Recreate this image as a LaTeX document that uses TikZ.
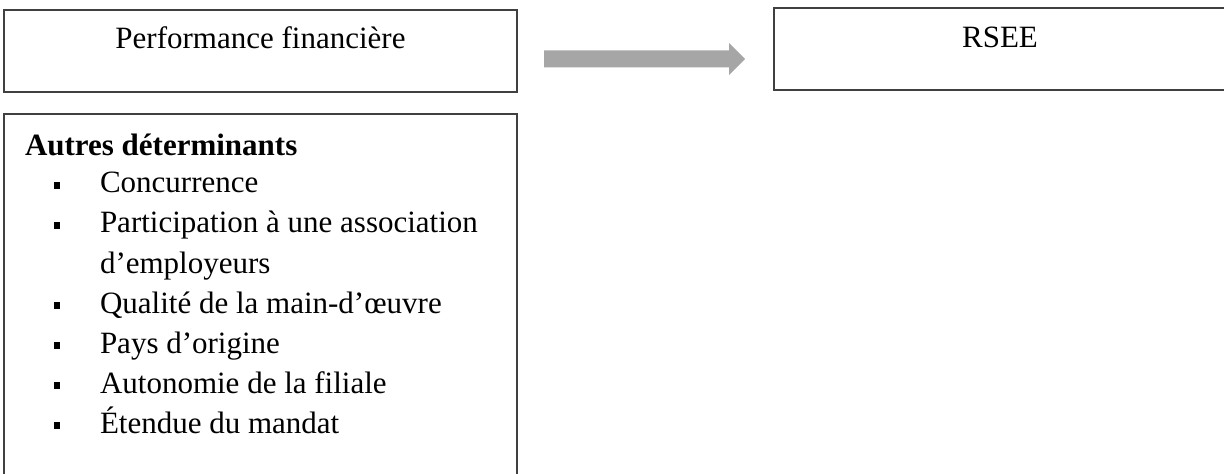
\documentclass[tikz,border=0pt]{standalone}
\usepackage{fontspec}
\setmainfont{Liberation Serif}
\definecolor{framegray}{HTML}{404040}
\definecolor{arrowgray}{HTML}{A6A6A6}
\begin{document}
\begin{tikzpicture}[x=0.75pt,y=-0.75pt,
  framebox/.style={draw=framegray,line width=1pt,rectangle,inner sep=0pt,outer sep=0pt},
  txt/.style={inner sep=0pt,outer sep=0pt,font=\fontsize{23.25pt}{27pt}\selectfont},
  itemtxt/.style={txt,anchor=base west},
  sqbullet/.style={fill=black,rectangle,inner sep=0pt,minimum size=5.2pt}]
  \useasboundingbox (0,0) rectangle (1224,474);
  \clip (0,0) rectangle (1224,474);
  % boxes
  \node[framebox,minimum width=384.75pt,minimum height=61.5pt] (perf) at (260.5,51) {};
  \node[framebox,minimum width=342pt,minimum height=61.5pt] (rsee) at (1002,49) {};
  \node[framebox,minimum width=384.75pt,minimum height=274.5pt] (autres) at (260.5,297) {};
  % labels
  \node[txt,anchor=base] (perflbl) at (260.5,49) {Performance financière};
  \node[txt,anchor=base] (rseelbl) at (1000,48) {RSEE};
  % block arrow between the two top boxes
  \fill[arrowgray] (544,50.5) -- (729,50.5) -- (729,43) -- (745,59) -- (729,75)
    -- (729,67.5) -- (544,67.5) -- cycle;
  % list of other determinants
  \node[itemtxt,font=\fontsize{23.25pt}{27pt}\selectfont\bfseries] (titre) at (25,156) {Autres déterminants};
  \foreach \y/\t [count=\i] in {193/Concurrence,
      233/Participation à une association,
      313/Qualité de la main-d’œuvre,
      353/Pays d’origine,
      393/Autonomie de la filiale,
      433/Étendue du mandat}{
    \node[sqbullet] (b\i) at (57,\y-7.5) {};
    \node[itemtxt] (it\i) at (100,\y) {\t};
  }
  \node[itemtxt] (it2b) at (100,273) {d’employeurs};
\end{tikzpicture}
\end{document}
